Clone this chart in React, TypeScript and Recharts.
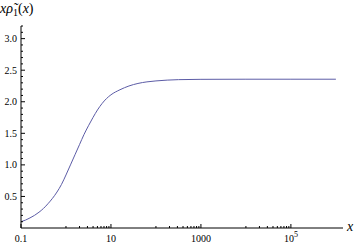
import React from 'react';
import { LineChart, Line, XAxis, YAxis } from 'recharts';

// curve samples: x (log-scaled axis) and x·ρ̃1(x)
const xValues = [0.1, 0.1259, 0.1585, 0.1995, 0.2512, 0.3162, 0.3981, 0.5012, 0.631, 0.7943, 1.0, 1.259, 1.585, 1.995, 2.512, 3.162, 3.981, 5.012, 6.31, 7.943, 10, 15.85, 25.12, 39.81, 63.1, 100, 316.2, 1000, 10000, 100000, 1000000];
const yValues = [0.1, 0.125, 0.16, 0.2, 0.25, 0.31, 0.385, 0.47, 0.57, 0.69, 0.84, 1.0, 1.16, 1.32, 1.48, 1.62, 1.75, 1.87, 1.97, 2.05, 2.11, 2.19, 2.25, 2.29, 2.315, 2.33, 2.35, 2.355, 2.357, 2.357, 2.357];

const xMajorTicks = [0.1, 10, 1000, 100000];
const xMajorLabels = ['0.1', '10', '1000', '10^5'];
const xMinorDecades = [1, 100, 10000];

const yMajorTicks = [0.5, 1.0, 1.5, 2.0, 2.5, 3.0];
const yMajorLabels = ['0.5', '1.0', '1.5', '2.0', '2.5', '3.0'];

const data = xValues.map((x, i) => ({ x, y: yValues[i] }));

const xTicks: number[] = [...xMajorTicks];
xMinorDecades.forEach((d) => {
  for (let m = 1; m <= 9; m++) xTicks.push(d * m);
});
xTicks.sort((a, b) => a - b);

const yTicks: number[] = [];
for (let k = 1; k <= 32; k++) yTicks.push(k / 10);

const FONT = '"Liberation Serif", "Times New Roman", serif';

const XTick = (props: any) => {
  const { x, y, payload } = props;
  const v = payload.value;
  const idx = xMajorTicks.findIndex((t) => Math.abs(t - v) / t < 1e-9);
  const major = idx >= 0;
  return (
    <g>
      <line x1={x} x2={x} y1={y} y2={y - (major ? 4 : 2)} stroke="#000" strokeWidth={1} />
      {major && (
        xMajorLabels[idx].includes('^') ? (
          <text x={x} y={y + 14} textAnchor="middle" fontFamily={FONT} fontSize={10} fill="#000">
            <tspan>{xMajorLabels[idx].split('^')[0]}</tspan>
            <tspan dy={-5} fontSize={8}>{xMajorLabels[idx].split('^')[1]}</tspan>
          </text>
        ) : (
          <text x={x} y={y + 14} textAnchor="middle" fontFamily={FONT} fontSize={10} fill="#000">
            {xMajorLabels[idx]}
          </text>
        )
      )}
    </g>
  );
};

const YTick = (props: any) => {
  const { x, y, payload } = props;
  const v = payload.value;
  const idx = yMajorTicks.findIndex((t) => Math.abs(t - v) < 1e-6);
  const major = idx >= 0;
  return (
    <g>
      <line x1={x} x2={x + (major ? 4 : 2)} y1={y} y2={y} stroke="#000" strokeWidth={1} />
      {major && (
        <text x={x - 4} y={y + 3.5} textAnchor="end" fontFamily={FONT} fontSize={10} fill="#000">
          {yMajorLabels[idx]}
        </text>
      )}
    </g>
  );
};

export default function App() {
  return (
    <div style={{ position: 'absolute', left: 0, top: 0, width: 360, height: 246, background: '#fff' }}>
      <LineChart width={360} height={246} data={data} margin={{ top: 26, right: 17, bottom: 0, left: 0 }}>
        <XAxis
          dataKey="x"
          type="number"
          scale="log"
          domain={[0.1, 1440000]}
          allowDataOverflow
          ticks={xTicks}
          interval={0}
          tick={<XTick />}
          tickLine={false}
          tickSize={0}
          tickMargin={0}
          height={18}
          axisLine={{ stroke: '#000', strokeWidth: 1 }}
        />
        <YAxis
          type="number"
          domain={[0, 3.2]}
          allowDataOverflow
          ticks={yTicks}
          interval={0}
          tick={<YTick />}
          tickLine={false}
          tickSize={0}
          tickMargin={0}
          width={21}
          axisLine={{ stroke: '#000', strokeWidth: 1 }}
        />
        <Line
          dataKey="y"
          type="monotone"
          stroke="#5c5ca6"
          strokeWidth={1}
          dot={false}
          isAnimationActive={false}
        />
      </LineChart>
      <div style={{ position: 'absolute', left: 0, top: 0, fontFamily: FONT, fontSize: 14, lineHeight: '18px', color: '#000', whiteSpace: 'nowrap' }}>
        <i>x</i><i>ρ̃</i><sub style={{ fontSize: 10, verticalAlign: '-3px' }}>1</sub>(<i>x</i>)
      </div>
      <div style={{ position: 'absolute', left: 347, top: 219, fontFamily: FONT, fontSize: 14, fontStyle: 'italic', color: '#000' }}>
        x
      </div>
    </div>
  );
}
